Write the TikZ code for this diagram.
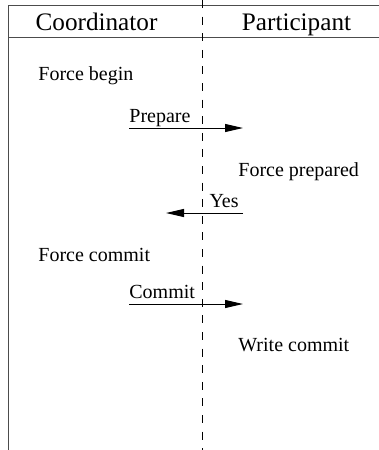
\documentclass[tikz,border=0pt]{standalone}
\usepackage{fontspec}
\setmainfont{Liberation Serif}
\usetikzlibrary{positioning,arrows.meta}
\tikzset{>={Triangle[length=9pt,width=4pt]}}
\tikzstyle{msg} = [->, line width=0.5pt]
\tikzstyle{state} = [inner sep=0pt, anchor=base west, font=\fontsize{10}{12}\selectfont]
\tikzstyle{label} = [inner sep=0pt, font=\fontsize{10}{12}\selectfont]
\tikzstyle{head} = [inner sep=0pt, anchor=base, font=\fontsize{12.6}{15}\selectfont]
\tikzstyle{frame} = [line width=0.5pt, draw=black!70]
\tikzstyle{lifeline} = [line width=0.5pt, dash pattern=on 4pt off 4.3pt]

\begin{document}
\begin{tikzpicture}[x=0.5pt, y=-0.5pt]
 \useasboundingbox (0,0) rectangle (379,450);

 % frame and lifeline
 \coordinate (tl) at (8,5); \coordinate (tr) at (379,5); \coordinate (bl) at (8,450);
 \coordinate (hl) at (8,37); \coordinate (hr) at (379,37);
 \coordinate (top) at (202,0); \coordinate (bot) at (202,450);
 \draw[frame] (tr) -- (tl) -- (bl);
 \draw[frame] (hl) -- (hr);
 \draw[lifeline] (top) -- (bot);

 \node [head] (coord) at (96.5,30) {Coordinator};
 \node [head] (part) at (296.5,30) {Participant};

 % states
 \node [state] (s1) at (38,80) {Force begin};
 \node [state] (s2) at (238,176) {Force prepared};
 \node [state] (s3) at (38,261.5) {Force commit};
 \node [state] (s4) at (238,351.5) {Write commit};

 % messages
 \coordinate (p1) at (129,128); \coordinate (p2) at (243,128);
 \coordinate (y1) at (243,213); \coordinate (y2) at (166,213);
 \coordinate (c1) at (129,304); \coordinate (c2) at (243,304);

 \node [label, anchor=base west, yshift=3pt] (prep) at (p1) {Prepare};
 \node [label, anchor=base east, xshift=-2pt, yshift=3pt] (yes) at (y1) {Yes};
 \node [label, anchor=base west, yshift=3pt] (comm) at (c1) {Commit};

 \path[msg] (p1) edge (p2);
 \path[msg] (y1) edge (y2);
 \path[msg] (c1) edge (c2);
\end{tikzpicture}
\end{document}
